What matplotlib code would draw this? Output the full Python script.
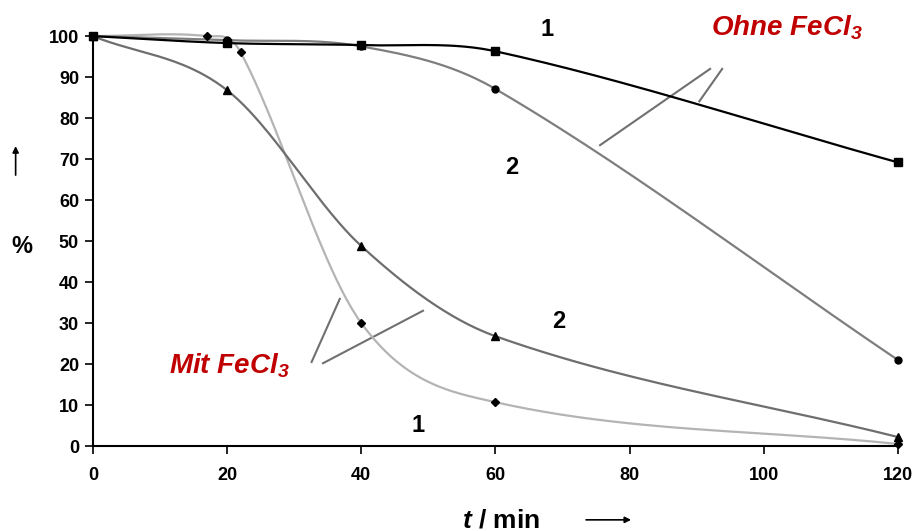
import numpy as np
import matplotlib
matplotlib.use("Agg")
import matplotlib.pyplot as plt
from matplotlib.patches import FancyArrowPatch

plt.rcParams['font.family'] = ['Liberation Sans', 'DejaVu Sans']
plt.rcParams['mathtext.fontset'] = 'custom'
plt.rcParams['mathtext.rm'] = 'Liberation Sans:bold:italic'
plt.rcParams['mathtext.it'] = 'Liberation Sans:bold:italic'

# ── data ──
t_ohne1 = [0, 20, 40, 60, 120]
y_ohne1 = [100, 98.3, 97.8, 96.3, 69.2]
t_ohne2 = [0, 20, 40, 60, 120]
y_ohne2 = [100, 99.0, 97.5, 87.1, 21.0]
t_mit2 = [0, 20, 40, 60, 120]
y_mit2 = [100, 86.8, 48.8, 26.8, 2.2]
t_mit1 = [0, 17, 22, 40, 60, 120]
y_mit1 = [100, 100, 96.1, 30.0, 10.7, 0.5]

xticks = [0, 20, 40, 60, 80, 100, 120]
yticks = list(range(0, 101, 10))


def smooth(xs, ys, n=50):
    # cubic Hermite with Catmull-Rom (finite-difference) slopes
    x = np.asarray(xs, float)
    y = np.asarray(ys, float)
    h = np.diff(x)
    m = np.zeros_like(y)
    m[0] = (y[1] - y[0]) / h[0]
    m[-1] = (y[-1] - y[-2]) / h[-1]
    m[1:-1] = (y[2:] - y[:-2]) / (x[2:] - x[:-2])
    t = np.linspace(0, 1, n)
    h00 = 2 * t ** 3 - 3 * t ** 2 + 1
    h10 = t ** 3 - 2 * t ** 2 + t
    h01 = -2 * t ** 3 + 3 * t ** 2
    h11 = t ** 3 - t ** 2
    ox, oy = [], []
    for i in range(len(x) - 1):
        ox.append(x[i] + t * h[i])
        oy.append(h00 * y[i] + h10 * h[i] * m[i] + h01 * y[i + 1] + h11 * h[i] * m[i + 1])
    return np.concatenate(ox), np.concatenate(oy)


fig = plt.figure(figsize=(9.2, 5.31), dpi=100)
ax = fig.add_axes([0.101, 0.160, 0.875, 0.772])

series = [
    (t_mit1, y_mit1, '#b4b4b4', 'D', 4.5),
    (t_mit2, y_mit2, '#6e6e6e', '^', 6),
    (t_ohne2, y_ohne2, '#7e7e7e', 'o', 5),
    (t_ohne1, y_ohne1, '#000000', 's', 5.5),
]
for xs, ys, col, mk, ms in series:
    sx, sy = smooth(xs, ys)
    ax.plot(sx, sy, color=col, lw=1.6, clip_on=False, zorder=2)
    ax.plot(xs, ys, ls='none', marker=mk, ms=ms, color='black', clip_on=False, zorder=3)

ax.set_xlim(0, 120)
ax.set_ylim(0, 100)
ax.set_xticks(xticks)
ax.set_yticks(yticks)
for sp in ['top', 'right']:
    ax.spines[sp].set_visible(False)
for sp in ['left', 'bottom']:
    ax.spines[sp].set_linewidth(1.5)
ax.tick_params(direction='out', length=6, width=1.2, pad=9, labelsize=13)
ax.tick_params(axis='y', pad=4)
for lab in ax.get_xticklabels() + ax.get_yticklabels():
    lab.set_fontweight('bold')

# curve numbers
for x, y, s in [(67.7, 101.5, '1'), (62.5, 68, '2'), (69.5, 30.5, '2'), (48.5, 5, '1')]:
    ax.text(x, y, s, fontsize=17, fontweight='bold', ha='center', va='center')

red = '#c00000'
ax.text(103.5, 102, 'Ohne FeCl$_3$', color=red, fontsize=20, fontweight='bold',
        fontstyle='italic', ha='center', va='center')
ax.text(20.4, 19.5, 'Mit FeCl$_3$', color=red, fontsize=20, fontweight='bold',
        fontstyle='italic', ha='center', va='center')

# pointer lines
ptr = '#707070'
for (x0, y0), (x1, y1) in [((75.6, 73.4), (92.0, 92.0)), ((90.4, 84.1), (93.8, 92.0)),
                           ((32.6, 20.5), (36.8, 35.9)), ((34.3, 20.2), (49.2, 33.0))]:
    ax.plot([x0, x1], [y0, y1], color=ptr, lw=1.5, clip_on=False, zorder=1)

# axis labels with arrows
fig.text(0.024, 0.535, '%', fontsize=17, fontweight='bold', ha='center', va='center')
fig.patches.append(FancyArrowPatch(
    (0.017, 0.665), (0.017, 0.73), transform=fig.transFigure,
    arrowstyle='-|>', mutation_scale=9, lw=1.2, color='black'))
fig.text(0.545, 0.02, r'$t$ / min', fontsize=19, fontweight='bold', ha='center', va='center')
fig.patches.append(FancyArrowPatch(
    (0.634, 0.021), (0.689, 0.021), transform=fig.transFigure,
    arrowstyle='-|>', mutation_scale=9, lw=1.2, color='black'))

fig.savefig('out.png', dpi=100)
